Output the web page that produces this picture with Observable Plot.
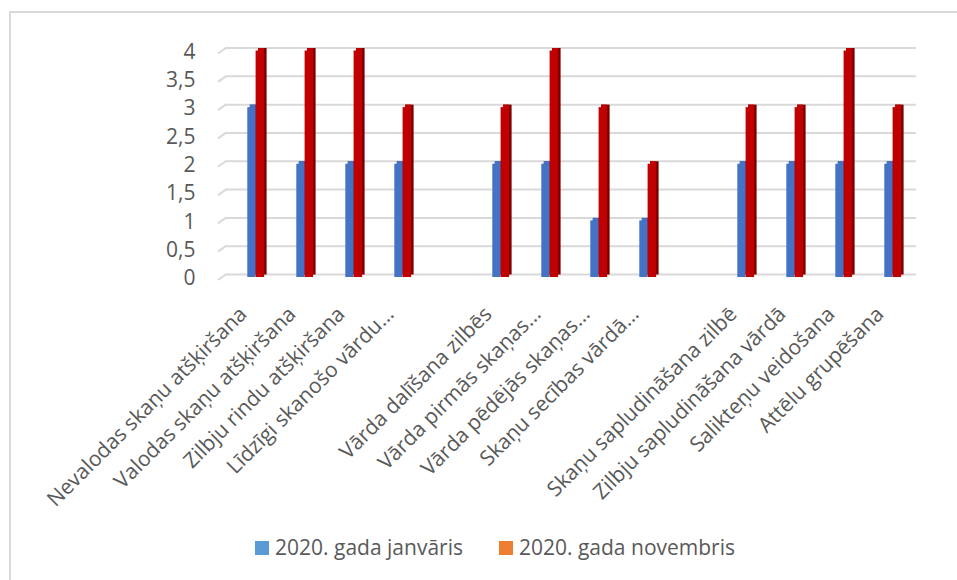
<!DOCTYPE html>
<html>
<head>
<meta charset="utf-8">
<script src="https://cdn.jsdelivr.net/npm/d3@7"></script>
<script src="https://cdn.jsdelivr.net/npm/@observablehq/plot@0.6"></script>
<style>
  html, body { margin: 0; padding: 0; background: #fff; overflow: hidden; }
  #wrap { position: relative; width: 957px; height: 580px; overflow: hidden; font-family: "Open Sans", sans-serif; }
  #frame { position: absolute; left: 9px; top: 11px; width: 1200px; height: 1200px; border-left: 2px solid #d9d9d9; border-top: 2px solid #d9d9d9; }
  #chart { position: absolute; left: 0; top: 0; }
  #legend { position: absolute; left: 255px; top: 533px; display: flex; align-items: center; font-size: 21px; color: #595959; white-space: nowrap; }
  #legend .item { display: flex; align-items: center; }
  #legend .sw { width: 14px; height: 14px; margin-right: 6px; margin-top: 2px; }
</style>
</head>
<body>
<div id="wrap">
  <div id="frame"></div>
  <div id="chart"></div>
  <div id="legend"></div>
</div>
<script>
const categories = [
  "Nevalodas skaņu atšķiršana",
  "Valodas skaņu atšķiršana",
  "Zilbju rindu atšķiršana",
  "Līdzīgi skanošo vārdu…",
  "",
  "Vārda dalīšana zilbēs",
  "Vārda pirmās skaņas…",
  "Vārda pēdējās skaņas…",
  "Skaņu secības vārdā…",
  "",
  "Skaņu sapludināšana zilbē",
  "Zilbju sapludināšana vārdā",
  "Salikteņu veidošana",
  "Attēlu grupēšana"
];
const january = [3, 2, 2, 2, null, 2, 2, 1, 1, null, 2, 2, 2, 2];
const november = [4, 4, 4, 3, null, 3, 4, 3, 2, null, 3, 3, 4, 3];
const yTicks = [0, 0.5, 1, 1.5, 2, 2.5, 3, 3.5, 4];
const seriesNames = ["2020. gada janvāris", "2020. gada novembris"];
const legendColors = ["#5B9BD5", "#ED7D31"];

const rows = categories.map((c, i) => ({i, label: c, jan: january[i], nov: november[i]}));

const blue = "#4472C4", blueDark = "#2F528F";
const red = "#C00000", redDark = "#7A0000";
const d = 2.5;

const chart = Plot.plot({
  width: 957,
  height: 520,
  marginTop: 50.5,
  marginBottom: 243,
  marginLeft: 218,
  marginRight: 41,
  style: {fontFamily: "Open Sans, sans-serif", background: "transparent"},
  x: {type: "band", domain: d3.range(categories.length), range: [231.4, 919.9], padding: 0, axis: null},
  y: {domain: [0, 4], axis: null},
  marks: [
    Plot.ruleY(yTicks, {y: v => v, dy: -3, stroke: "#d9d9d9", strokeWidth: 2, insetLeft: 8}),
    Plot.text(yTicks, {y: v => v, text: v => String(v).replace(".", ","), frameAnchor: "left", textAnchor: "end", dx: -23, dy: 1, fontSize: 21, fill: "#595959"}),
    // January bars (3D look)
    Plot.barY(rows, {x: "i", y: "jan", fill: blueDark, insetLeft: 16.8, insetRight: 24.1, dy: -d}),
    Plot.barY(rows, {x: "i", y: "jan", fill: blue, insetLeft: 16.8, insetRight: 26.6, dy: -d}),
    Plot.barY(rows, {x: "i", y: "jan", fill: blue, insetLeft: 14.3, insetRight: 26.6}),
    // November bars (3D look)
    Plot.barY(rows, {x: "i", y: "nov", fill: redDark, insetLeft: 25.1, insetRight: 15.4, dy: -d}),
    Plot.barY(rows, {x: "i", y: "nov", fill: red, insetLeft: 25.1, insetRight: 17.9, dy: -d}),
    Plot.barY(rows, {x: "i", y: "nov", fill: red, insetLeft: 22.6, insetRight: 17.9}),
    // category labels
    Plot.text(rows.filter(r => r.label !== ""), {x: "i", text: "label", frameAnchor: "bottom", rotate: -45, textAnchor: "end", lineAnchor: "bottom", dx: -10, dy: 38, fontSize: 21, fill: "#595959"})
  ]
});

document.getElementById("chart").appendChild(chart);

// small depth diagonals at the left end of the gridlines
try {
  const ys = chart.scale("y");
  const yf = ys.apply ? (v => ys.apply(v)) : d3.scaleLinear(ys.domain, ys.range);
  const g = d3.select(chart).insert("g", ":first-child");
  yTicks.forEach(v => {
    const yg = yf(v) - 3;
    g.append("line").attr("x1", 218).attr("y1", yg + 6).attr("x2", 226.5).attr("y2", yg)
      .attr("stroke", "#d9d9d9").attr("stroke-width", 2);
  });
} catch (e) {}

const legend = document.getElementById("legend");
seriesNames.forEach((name, k) => {
  const item = document.createElement("div");
  item.className = "item";
  if (k > 0) item.style.marginLeft = "36px";
  const sw = document.createElement("span");
  sw.className = "sw";
  sw.style.background = legendColors[k];
  const t = document.createElement("span");
  t.textContent = name;
  item.appendChild(sw);
  item.appendChild(t);
  legend.appendChild(item);
});
</script>
</body>
</html>
